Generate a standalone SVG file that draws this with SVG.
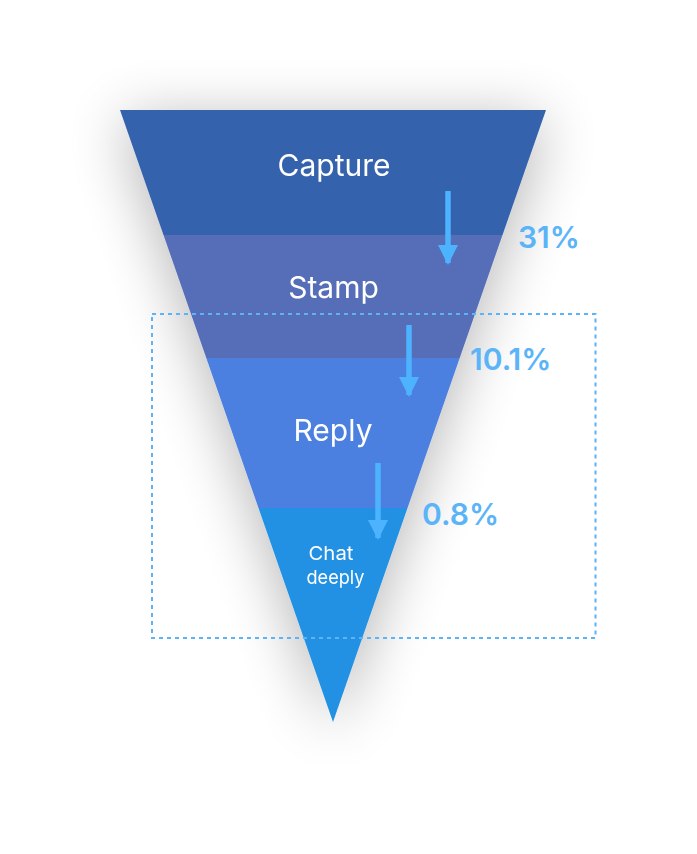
<svg xmlns="http://www.w3.org/2000/svg" width="697" height="854" viewBox="0 0 697 854">
<defs>
<filter id="sh" x="-40%" y="-40%" width="180%" height="180%">
<feGaussianBlur in="SourceAlpha" stdDeviation="30"/>
<feOffset dx="0" dy="10"/>
<feComponentTransfer><feFuncA type="linear" slope="0.3"/></feComponentTransfer>
<feMerge><feMergeNode/><feMergeNode in="SourceGraphic"/></feMerge>
</filter>
<marker id="ah" viewBox="0 0 20 20" refX="18" refY="10" markerWidth="20" markerHeight="20" markerUnits="userSpaceOnUse" orient="auto">
<path d="M0,0 L20,10 L0,20 z" fill="#4DB3FF"/>
</marker>
</defs>
<style>
.lbl{font-family:Inter,"Noto Sans",sans-serif;fill:#fff;text-anchor:middle}
.pct{font-family:Inter,"Noto Sans",sans-serif;fill:#5AB4F7;font-size:30px;font-weight:600}
.arr{stroke:#4DB3FF;stroke-width:5.5;fill:none}
</style>
<rect width="697" height="854" fill="#fff"/>
<g filter="url(#sh)">
<g id="capture"><polygon points="120,110 546,110 502.5,235 163.5,235" fill="#3562AD"/><text class="lbl" x="334" y="176" font-size="30">Capture</text></g>
<g id="stamp"><polygon points="163.5,235 502.5,235 459.7,358 206.3,358" fill="#566EB7"/><text class="lbl" x="333.5" y="298" font-size="30">Stamp</text></g>
<g id="reply"><polygon points="206.3,358 459.7,358 407.5,508 258.5,508" fill="#4B7FE0"/><text class="lbl" x="333" y="441" font-size="30">Reply</text></g>
<g id="chat"><polygon points="258.5,508 407.5,508 333,722" fill="#2190E3"/><text class="lbl" x="331" y="560" font-size="19" textLength="45" lengthAdjust="spacingAndGlyphs">Chat</text><text class="lbl" x="335.5" y="584" font-size="19" textLength="58" lengthAdjust="spacingAndGlyphs">deeply</text></g>
</g>
<rect x="152" y="314" width="443.5" height="324" fill="none" stroke="#5AB4F7" stroke-width="2" stroke-dasharray="4 4"/>
<g id="connectors">
<line class="arr" x1="448" y1="191" x2="448" y2="263" marker-end="url(#ah)"/>
<line class="arr" x1="409" y1="325" x2="409" y2="395" marker-end="url(#ah)"/>
<line class="arr" x1="378" y1="463" x2="378" y2="538" marker-end="url(#ah)"/>
</g>
<text class="pct" x="518" y="248">31%</text>
<text class="pct" x="470" y="370">10.1%</text>
<text class="pct" x="422" y="525">0.8%</text>
</svg>
